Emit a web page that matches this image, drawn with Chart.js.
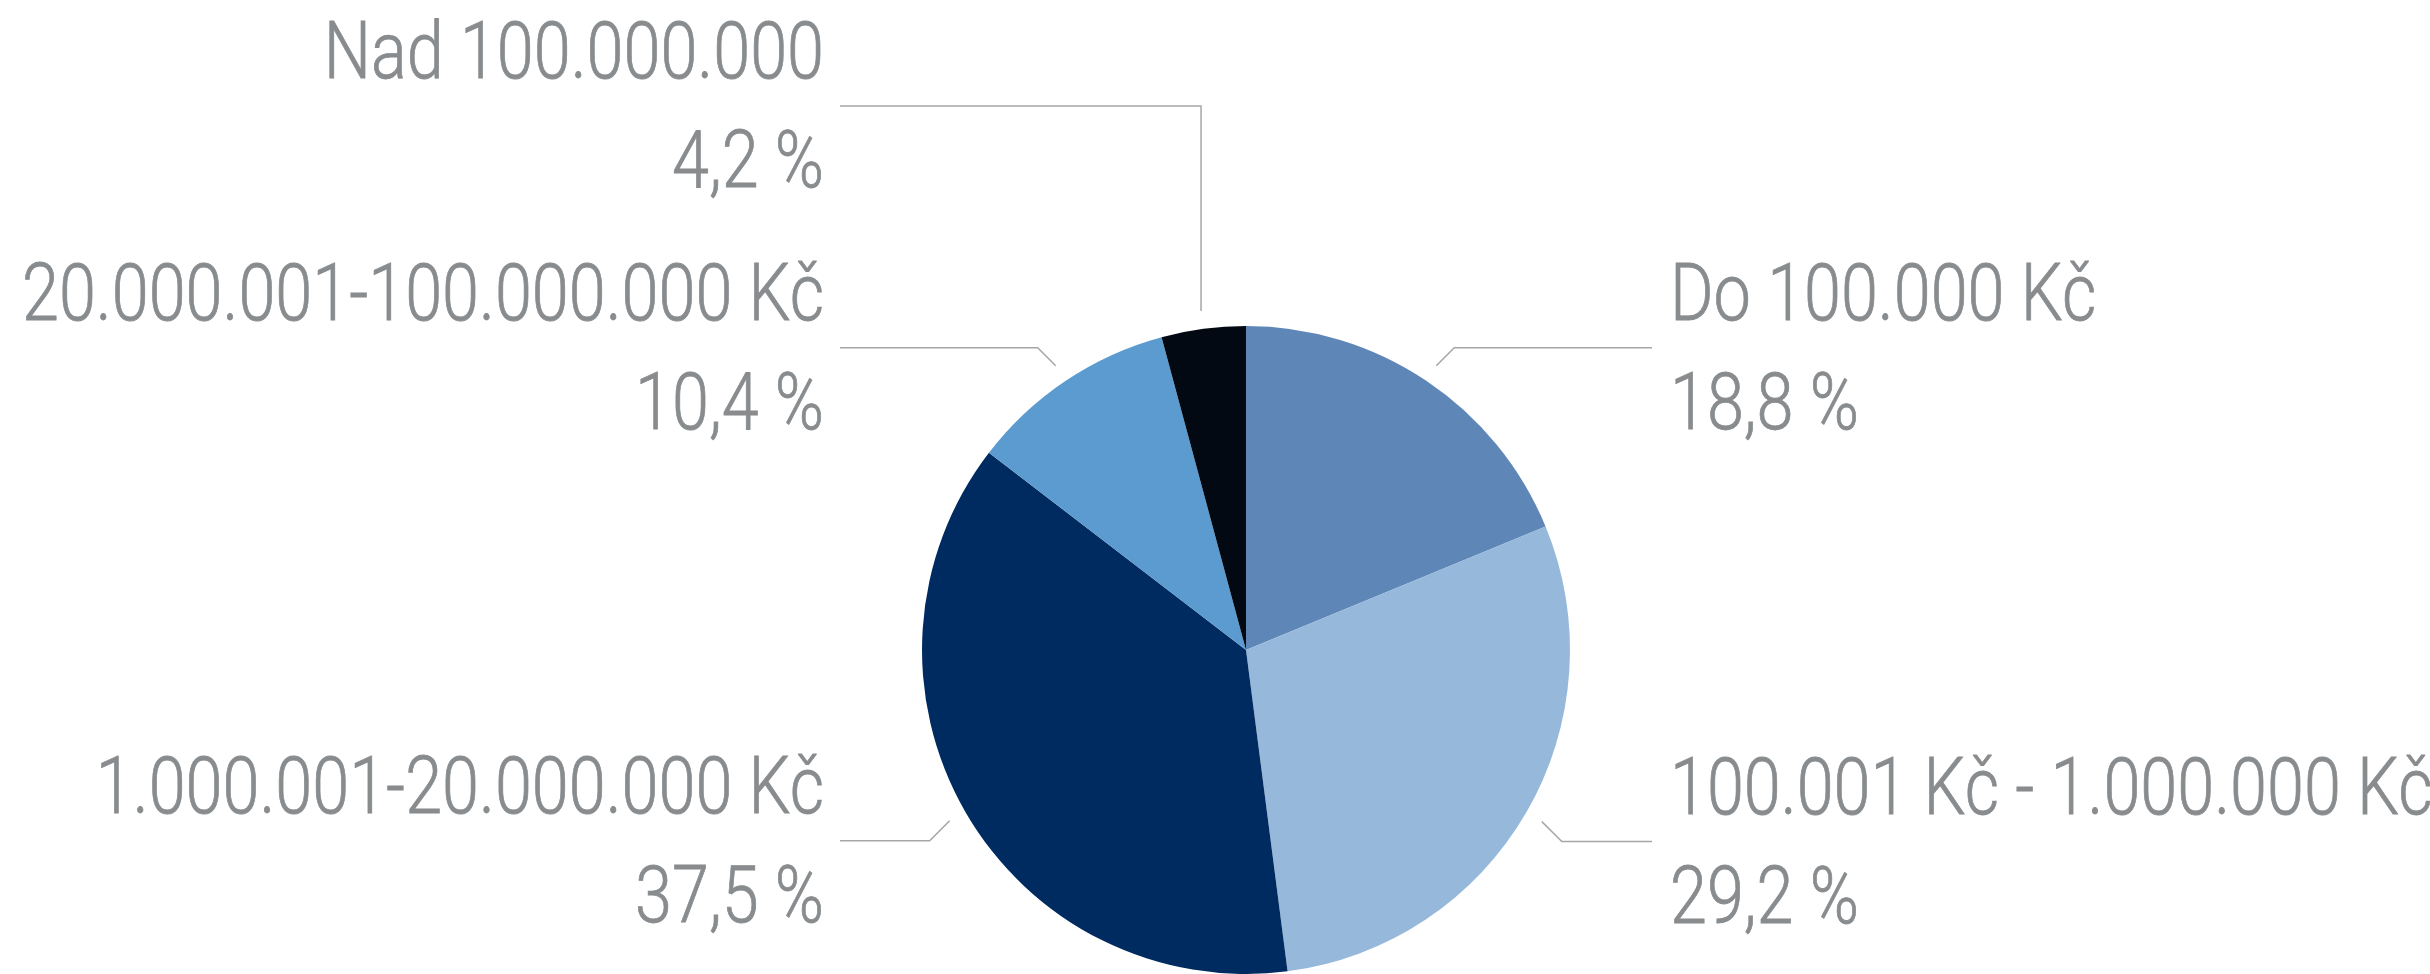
<!DOCTYPE html>
<html>
<head>
  <script src="https://cdn.jsdelivr.net/npm/chart.js@4/dist/chart.umd.min.js"></script>
  <title>Rozdělení podle výše</title>
  <style>
    html, body { margin: 0; padding: 0; background: #ffffff; }
    #wrap { width: 2430px; height: 974px; }
  </style>
</head>
<body>
  <div id="wrap">
    <canvas id="pieChart" width="2430" height="974"></canvas>
  </div>

  <script>
    // Categories and shares (%)
    const categories = [
      "Do 100.000 Kč",
      "100.001 Kč - 1.000.000 Kč",
      "1.000.001-20.000.000 Kč",
      "20.000.001-100.000.000 Kč",
      "Nad 100.000.000"
    ];
    const shares = [18.8, 29.2, 37.5, 10.4, 4.2];
    const sliceColors = ["#5e87b8", "#96b9db", "#002b60", "#5b9bd0", "#020912"];

    const textColor = "#898c8e";
    const lineColor = "#a4a6a8";
    const labelFont = '300 80px Roboto, "Open Sans", sans-serif';
    // the original uses a condensed face; squeeze a normal one to match
    const longestWidth = 802;

    // Leader line / label placement, drawn next to every slice
    const leaderLabels = {
      id: "leaderLabels",
      afterDatasetsDraw(chart) {
        const ctx = chart.ctx;
        const arcs = chart.getDatasetMeta(0).data;
        ctx.save();
        ctx.font = labelFont;
        ctx.lineWidth = 1.5;
        ctx.strokeStyle = lineColor;
        ctx.fillStyle = textColor;
        const squeeze = longestWidth / ctx.measureText("20.000.001-100.000.000 Kč").width;

        function drawText(str, x, y, align) {
          ctx.save();
          ctx.translate(x, y);
          ctx.scale(squeeze, 1);
          ctx.textAlign = align;
          ctx.textBaseline = "alphabetic";
          ctx.fillText(str, 0, 0);
          // slightly heavier strokes, like the original face
          ctx.lineWidth = 0.8;
          ctx.strokeStyle = textColor;
          ctx.strokeText(str, 0, 0);
          ctx.restore();
        }

        arcs.forEach((arc, i) => {
          const p = arc.getProps(["x", "y", "startAngle", "endAngle", "outerRadius"], true);
          const mid = (p.startAngle + p.endAngle) / 2;
          const sx = p.x + Math.cos(mid) * (p.outerRadius + 18);
          const sy = p.y + Math.sin(mid) * (p.outerRadius + 18);
          const right = Math.cos(mid) > 0;
          let ex, lineY;

          ctx.beginPath();
          ctx.moveTo(sx, sy);
          if (i === 4) {
            // smallest slice: straight up, then to the left column
            lineY = p.y - 544;
            ctx.lineTo(sx, lineY);
            ex = p.x - 406;
            ctx.lineTo(ex, lineY);
          } else {
            const d = Math.sin(mid) < 0 ? -18 : 20;
            lineY = sy + d;
            const kx = sx + (right ? Math.abs(d) : -Math.abs(d));
            ctx.lineTo(kx, lineY);
            ex = right ? p.x + 406 : p.x - 406;
            ctx.lineTo(ex, lineY);
          }
          ctx.stroke();

          const goRight = i === 4 ? false : right;
          const tx = goRight ? p.x + 424 : p.x - 422;
          const align = goRight ? "left" : "right";
          drawText(categories[i], tx, lineY - 28, align);
          drawText(shares[i].toFixed(1).replace(".", ",") + " %", tx, lineY + 81, align);
        });
        ctx.restore();
      }
    };

    let ctx = document.getElementById("pieChart").getContext("2d");
    let chart = new Chart(ctx, {
      type: "pie",
      data: {
        labels: categories,
        datasets: [
          {
            data: shares,
            backgroundColor: sliceColors,
            borderWidth: 0
          }
        ]
      },
      options: {
        responsive: false,
        animation: false,
        layout: {
          padding: { left: 62, right: 0, top: 326, bottom: 0 }
        },
        plugins: {
          legend: { display: false },
          tooltip: { enabled: false }
        }
      },
      plugins: [leaderLabels]
    });
  </script>
</body>
</html>
